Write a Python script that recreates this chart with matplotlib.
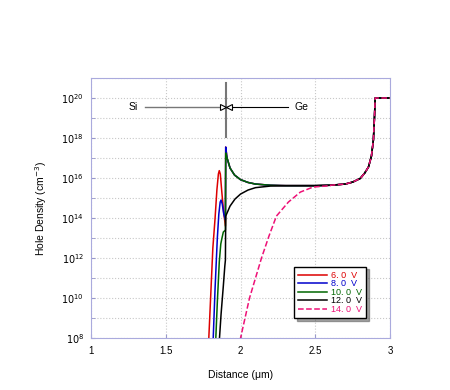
import numpy as np
import matplotlib
matplotlib.use("Agg")
import matplotlib.pyplot as plt
from matplotlib.ticker import FixedLocator, FuncFormatter

plt.rcParams['font.family'] = ['Liberation Sans', 'DejaVu Sans']

# shared Ge-side tail (log10 of hole density)
tail_x = [2.3, 2.5, 2.6, 2.7, 2.75, 2.8, 2.83, 2.855, 2.875, 2.888, 2.895, 2.9, 3.0]
tail_y = [15.62, 15.62, 15.64, 15.7, 15.8, 15.98, 16.25, 16.55, 17.1, 17.9, 19.0, 20.0, 20.0]

# spike just after the interface (6, 8, 10 V)
spike_x = [1.901, 1.91, 1.93, 1.96, 2.0, 2.05, 2.1, 2.2]
spike_y = [17.55, 17.0, 16.5, 16.15, 15.92, 15.78, 15.7, 15.64]

v6_x = [1.785, 1.80, 1.815, 1.83, 1.842, 1.852, 1.858, 1.865, 1.875, 1.887, 1.899] + spike_x + tail_x
v6_y = [7.5, 10.0, 12.5, 14.0, 15.4, 16.2, 16.37, 16.2, 15.3, 14.3, 13.6] + spike_y + tail_y

v8_x = [1.815, 1.83, 1.845, 1.855, 1.864, 1.87, 1.878, 1.888, 1.899] + spike_x + tail_x
v8_y = [7.5, 10.5, 13.0, 14.2, 14.8, 14.9, 14.7, 14.2, 13.9] + spike_y + tail_y

v10_x = [1.832, 1.845, 1.858, 1.868, 1.876, 1.885, 1.899] + spike_x + tail_x
v10_y = [7.5, 9.8, 11.8, 12.7, 13.0, 13.3, 13.4] + [17.25] + spike_y[1:] + tail_y

v12_x = [1.855, 1.87, 1.885, 1.895, 1.899, 1.901, 1.93, 1.963, 2.0, 2.05, 2.1, 2.2] + tail_x
v12_y = [7.5, 9.2, 10.6, 11.6, 11.9, 14.1, 14.6, 14.95, 15.2, 15.4, 15.52, 15.6] + tail_y

v14_x = [1.985, 2.03, 2.06, 2.10, 2.14, 2.19, 2.24, 2.32, 2.40, 2.485, 2.6] + tail_x[2:]
v14_y = [7.5, 9.0, 10.0, 11.0, 12.0, 13.1, 14.1, 14.8, 15.3, 15.55, 15.62] + tail_y[2:]

series = [
    ("6. 0  V", v6_x, v6_y, "#dd0000", "-"),
    ("8. 0  V", v8_x, v8_y, "#0000cc", "-"),
    ("10. 0  V", v10_x, v10_y, "#006600", "-"),
    ("12. 0  V", v12_x, v12_y, "black", "-"),
    ("14. 0  V", v14_x, v14_y, "#ee1177", "--"),
]

fig = plt.figure(figsize=(4.5, 3.9), dpi=100)
ax = fig.add_axes([0.202, 0.133, 0.665, 0.667])

for label, xs, ys, c, ls in series:
    ax.plot(xs, 10.0 ** np.array(ys), color=c, ls=ls, lw=1.1, label=label)

ax.set_yscale('log')
ax.set_xlim(1, 3)
ax.set_ylim(1e8, 1e21)
ax.set_xticks([1, 1.5, 2, 2.5, 3])
ax.set_xticklabels(["1", "1.5", "2", "2.5", "3"])
ax.yaxis.set_major_locator(FixedLocator([10.0 ** k for k in range(8, 21, 2)]))
ax.yaxis.set_minor_locator(FixedLocator([10.0 ** k for k in range(9, 22, 2)]))
ax.yaxis.set_major_formatter(FuncFormatter(lambda v, p: r"$10^{%d}$" % round(np.log10(v))))
ax.yaxis.set_minor_formatter(FuncFormatter(lambda v, p: ""))
ax.grid(True, which='both', color='#c8c8c8', ls=':', lw=0.8)
ax.tick_params(which='both', direction='in', length=3, color='#9999cc', labelsize=7)
ax.tick_params(axis='x', pad=6)
ax.tick_params(axis='y', pad=5)
for s in ax.spines.values():
    s.set_color('#aaaadd')

ax.set_xlabel("Distance (μm)", fontsize=7.5, labelpad=10)
ax.set_ylabel("Hole Density (cm$^{-3}$)", fontsize=7.5, labelpad=9)

# interface marker with Si / Ge arrows
ya = 10 ** 19.57
ax.plot([1.9, 1.9], [10 ** 18.07, 10 ** 20.73], color='#777777', lw=1.5)
ax.plot([1.36, 1.9], [ya, ya], color='#777777', lw=1.0)
ax.plot([1.9, 2.32], [ya, ya], color='black', lw=0.8)
ax.plot([1.88], [ya], marker='>', ms=5, mfc='white', mec='black', mew=0.8)
ax.plot([1.92], [ya], marker='<', ms=5, mfc='white', mec='black', mew=0.8)
ax.text(1.28, ya, "Si", fontsize=7.5, ha='center', va='center')
ax.text(2.41, ya, "Ge", fontsize=7.5, ha='center', va='center')

leg = ax.legend(loc='lower left', bbox_to_anchor=(0.665, 0.06), fontsize=6.5,
                frameon=True, fancybox=False, shadow=True, labelcolor='linecolor',
                handlelength=3.2, handletextpad=0.4, labelspacing=-0.05,
                borderpad=0.45, markerfirst=True)
leg.get_frame().set_edgecolor('black')
leg.get_frame().set_linewidth(1.0)
for t in leg.get_texts():
    t.set_ha('right')

fig.savefig("out.png", dpi=100)
